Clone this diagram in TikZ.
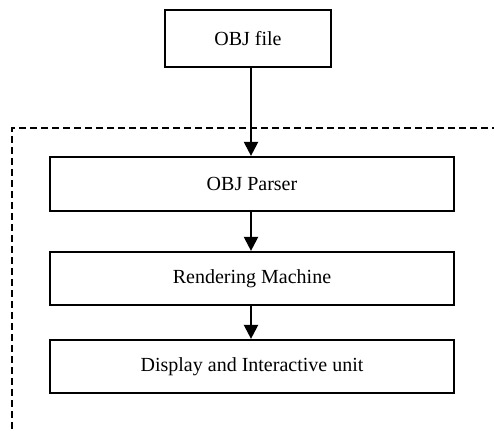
\documentclass[tikz,border=0pt]{standalone}
\usepackage{fontspec}
\setmainfont{Liberation Serif}
\usetikzlibrary{arrows.meta}
\begin{document}
\begin{tikzpicture}[x=1pt,y=-1pt,
  blockbox/.style={draw, line width=2.2pt, inner sep=0pt, font=\fontsize{20}{24}\selectfont},
  flow/.style={line width=2.2pt, -{Triangle[length=14pt,width=14pt]}},
  groupline/.style={line width=2pt, dash pattern=on 7pt off 4pt}]
\useasboundingbox (0,0) rectangle (494,430);
\node[blockbox, minimum width=166pt, minimum height=57pt] (obj) at (248,38.5) {OBJ file};
\node[blockbox, minimum width=404pt, minimum height=54pt] (parser) at (252,184) {OBJ Parser};
\node[blockbox, minimum width=404pt, minimum height=53pt] (render) at (252,278.5) {Rendering Machine};
\node[blockbox, minimum width=404pt, minimum height=53pt] (disp) at (252,366.5) {Display and Interactive unit};
\coordinate (gtr) at (510,128);
\coordinate (gtl) at (12,128);
\coordinate (gbl) at (12,440);
\draw[groupline] (gtr) -- (gtl) -- (gbl);
\draw[flow] (obj.south -| 251,0) -- (parser.north -| 251,0);
\draw[flow] (parser.south -| 251,0) -- (render.north -| 251,0);
\draw[flow] (render.south -| 251,0) -- (disp.north -| 251,0);
\end{tikzpicture}
\end{document}
